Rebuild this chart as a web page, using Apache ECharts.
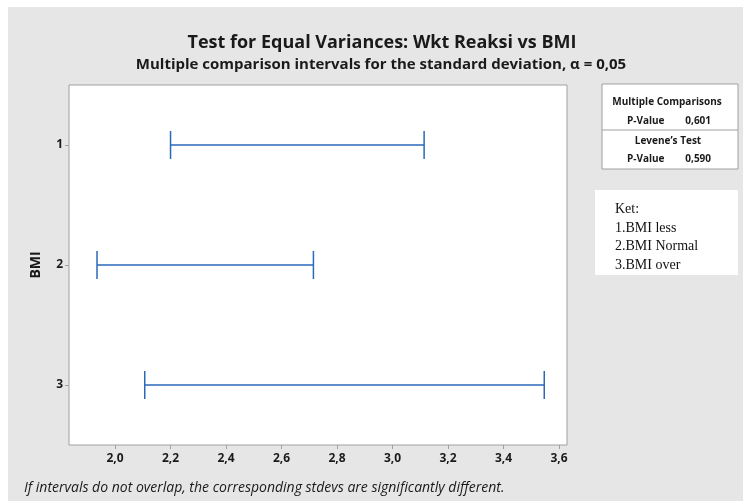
<!DOCTYPE html>
<html>
<head>
<meta charset="utf-8">
<script src="https://cdn.jsdelivr.net/npm/echarts@6/dist/echarts.min.js"></script>
<style>
  html, body { margin: 0; padding: 0; background: #fff; }
  #main { width: 743px; height: 501px; }
</style>
</head>
<body>
<div id="main"></div>
<script>
// BMI groups and stdev interval bounds
var groups = ['1', '2', '3'];
var lower = [2.20, 1.935, 2.107];
var upper = [3.114, 2.715, 3.547];
var xTicks = [2.0, 2.2, 2.4, 2.6, 2.8, 3.0, 3.2, 3.4, 3.6];
var mcPValue = '0,601';
var levenePValue = '0,590';
var ketLines = ['Ket:', '1.BMI less', '2.BMI Normal', '3.BMI over'];

var chart = echarts.init(document.getElementById('main'));
var font = '"Open Sans", "Noto Sans", sans-serif';

var intervalData = groups.map(function (g, i) {
  return [lower[i], upper[i], i];
});

function fmt(v) {
  return v.toFixed(1).replace('.', ',');
}

var option = {
  animation: false,
  graphic: [
    {
      type: 'rect', z: -10, silent: true,
      shape: { x: 8, y: 7, width: 735, height: 494 },
      style: { fill: '#e6e6e6' }
    },
    {
      type: 'text', x: 382, y: 43,
      style: { text: 'Test for Equal Variances: Wkt Reaksi vs BMI', font: 'bold 18px ' + font, fill: '#1a1a1a', align: 'center', verticalAlign: 'middle' }
    },
    {
      type: 'text', x: 381, y: 65,
      style: { text: 'Multiple comparison intervals for the standard deviation, \u03b1 = 0,05', font: 'bold 15px ' + font, fill: '#1a1a1a', align: 'center', verticalAlign: 'middle' }
    },
    // stats box
    {
      type: 'rect',
      shape: { x: 602, y: 84, width: 136, height: 85 },
      style: { fill: '#fff', stroke: '#a0a0a0', lineWidth: 1 }
    },
    {
      type: 'line',
      shape: { x1: 602, y1: 130, x2: 738, y2: 130 },
      style: { stroke: '#a0a0a0', lineWidth: 1 }
    },
    {
      type: 'text', x: 667, y: 102,
      style: { text: 'Multiple Comparisons', font: 'bold 10px ' + font, fill: '#1a1a1a', align: 'center', verticalAlign: 'middle' }
    },
    {
      type: 'text', x: 669, y: 121,
      style: { text: 'P-Value        ' + mcPValue, font: 'bold 10px ' + font, fill: '#1a1a1a', align: 'center', verticalAlign: 'middle' }
    },
    {
      type: 'text', x: 668, y: 141,
      style: { text: 'Levene\u2019s Test', font: 'bold 10px ' + font, fill: '#1a1a1a', align: 'center', verticalAlign: 'middle' }
    },
    {
      type: 'text', x: 669, y: 159,
      style: { text: 'P-Value        ' + levenePValue, font: 'bold 10px ' + font, fill: '#1a1a1a', align: 'center', verticalAlign: 'middle' }
    },
    // Ket box
    {
      type: 'rect',
      shape: { x: 595, y: 190, width: 143, height: 85 },
      style: { fill: '#fff' }
    },
    {
      type: 'text', x: 615, y: 200,
      style: { text: ketLines.join('\n'), font: '14px "Liberation Serif", serif', lineHeight: 18.7, fill: '#111' }
    },
    {
      type: 'text', x: 24, y: 488,
      style: { text: 'If intervals do not overlap, the corresponding stdevs are significantly different.', font: 'italic 14px ' + font, fill: '#1a1a1a', verticalAlign: 'middle' }
    }
  ],
  grid: {
    left: 69, top: 85, width: 498, height: 360,
    show: true, backgroundColor: '#fff', borderColor: '#a0a0a0', borderWidth: 1
  },
  xAxis: {
    type: 'value',
    min: 1.834, max: 3.629,
    splitLine: { show: false },
    axisLine: { show: false },
    axisTick: { show: true, length: 4, lineStyle: { color: '#a0a0a0' }, customValues: xTicks },
    axisLabel: {
      customValues: xTicks, formatter: fmt, margin: 8,
      color: '#1a1a1a', fontFamily: font, fontWeight: 'bold', fontSize: 12
    }
  },
  yAxis: {
    type: 'category',
    data: groups,
    inverse: true,
    name: 'BMI', nameLocation: 'middle', nameGap: 26,
    nameTextStyle: { color: '#1a1a1a', fontFamily: font, fontWeight: 'bold', fontSize: 14 },
    axisLine: { show: false },
    axisTick: { show: true, alignWithLabel: true, length: 4, lineStyle: { color: '#a0a0a0' } },
    axisLabel: { color: '#1a1a1a', fontFamily: font, fontWeight: 'bold', fontSize: 12, margin: 6 },
    splitLine: { show: false }
  },
  series: [{
    type: 'custom',
    data: intervalData,
    encode: { x: [0, 1], y: 2 },
    renderItem: function (params, api) {
      var cat = api.value(2);
      var a = api.coord([api.value(0), cat]);
      var b = api.coord([api.value(1), cat]);
      var h = 14;
      var st = { stroke: '#2a68b8', lineWidth: 1.5 };
      return {
        type: 'group',
        children: [
          { type: 'line', shape: { x1: a[0], y1: a[1], x2: b[0], y2: b[1] }, style: st },
          { type: 'line', shape: { x1: a[0], y1: a[1] - h, x2: a[0], y2: a[1] + h }, style: st },
          { type: 'line', shape: { x1: b[0], y1: b[1] - h, x2: b[0], y2: b[1] + h }, style: st }
        ]
      };
    }
  }]
};

chart.setOption(option);
</script>
</body>
</html>
